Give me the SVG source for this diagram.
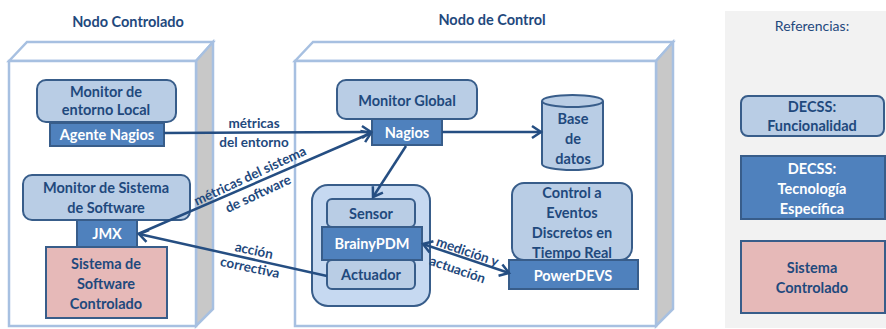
<svg xmlns="http://www.w3.org/2000/svg" width="886" height="329" viewBox="0 0 886 329">
<defs>
<style>
.t{font-family:Lato,"Liberation Sans",sans-serif;font-weight:bold;font-size:14.5px;fill:#1F497D;text-anchor:middle}
.w{fill:#FFFFFF}
.lbl{font-family:Lato,"Liberation Sans",sans-serif;font-weight:bold;font-size:13.5px;fill:#1F497D;text-anchor:middle}
.func{fill:#B9CDE5;stroke:#385D8A;stroke-width:2}
.tech{fill:#4F81BD;stroke:#385D8A;stroke-width:2}
.ctrl{fill:#E6B9B8;stroke:#385D8A;stroke-width:2}
.face{fill:#FFFFFF;stroke:#A7C0E1;stroke-width:2.5}
.side{fill:#C8C8C8;stroke:#A7C0E1;stroke-width:2.5}
.conn{fill:none;stroke:#254E82;stroke-width:2.5}
</style>
<marker id="ah" markerWidth="16" markerHeight="16" refX="12" refY="8" orient="auto-start-reverse" markerUnits="userSpaceOnUse">
<path d="M3,2 L12,8 L3,14" fill="none" stroke="#254E82" stroke-width="2.5"/>
</marker>
</defs>

<g id="nodo-controlado">
<text class="t" x="128" y="27">Nodo Controlado</text>
<polygon class="face" points="9,61 27,42 213,42 196,61"/>
<polygon class="side" points="196,61 213,42 213,309 196,326"/>
<rect class="face" x="9" y="61" width="187" height="265"/>
</g>

<g id="nodo-control">
<text class="t" x="492" y="25">Nodo de Control</text>
<polygon class="face" points="295,61 313,42 673,42 656,61"/>
<polygon class="side" points="656,61 673,42 673,309 656,326"/>
<rect class="face" x="295" y="61" width="361" height="265"/>
</g>

<g id="referencias">
<rect x="725" y="11" width="161" height="317" fill="#F2F2F2"/>
<text x="812" y="31" font-family="Lato,'Liberation Sans',sans-serif" font-size="14px" fill="#1F497D" text-anchor="middle">Referencias:</text>
</g>

<g id="monitor-entorno-local">
<rect class="func" x="37" y="80" width="139" height="42" rx="9"/>
<text class="t" x="106" y="97">Monitor de</text>
<text class="t" x="106" y="115">entorno Local</text>
</g>
<g id="agente-nagios">
<rect class="tech" x="50" y="123" width="114" height="23"/>
<text class="t w" x="107" y="140">Agente Nagios</text>
</g>

<g id="monitor-sistema-software">
<rect class="func" x="23" y="175" width="167" height="45" rx="9"/>
<text class="t" x="106" y="193">Monitor de Sistema</text>
<text class="t" x="106" y="213">de Software</text>
</g>
<g id="jmx">
<rect class="tech" x="77" y="220" width="60" height="27"/>
<text class="t w" x="107" y="239">JMX</text>
</g>
<g id="sistema-software-controlado">
<rect class="ctrl" x="46" y="247" width="121" height="71"/>
<text class="t" x="106" y="269">Sistema de</text>
<text class="t" x="106" y="289">Software</text>
<text class="t" x="106" y="309">Controlado</text>
</g>

<g id="monitor-global">
<rect class="func" x="337" y="80" width="140" height="39" rx="9"/>
<text class="t" x="407" y="106">Monitor Global</text>
</g>
<g id="nagios">
<rect class="tech" x="372" y="119" width="70" height="26"/>
<text class="t w" x="407" y="138">Nagios</text>
</g>

<g id="base-de-datos">
<path class="func" d="M542,101 L542,164 A30.5,6 0 0 0 603,164 L603,101 A30.5,6 0 0 0 542,101 Z"/>
<path d="M542,101 A30.5,6 0 0 0 603,101" fill="none" stroke="#385D8A" stroke-width="2"/>
<text class="t" x="573" y="124">Base</text>
<text class="t" x="573" y="144">de</text>
<text class="t" x="573" y="164">datos</text>
</g>

<g id="brainypdm-grupo">
<rect x="312" y="185" width="118" height="121" rx="16" fill="#C6D9F1" stroke="#385D8A" stroke-width="2"/>
</g>
<g id="sensor">
<rect class="func" x="327" y="199" width="88" height="28" rx="5"/>
<text class="t" x="371" y="219">Sensor</text>
</g>
<g id="brainypdm">
<rect class="tech" x="322" y="227" width="100" height="33"/>
<text class="t w" x="372" y="249">BrainyPDM</text>
</g>
<g id="actuador">
<rect class="func" x="327" y="260" width="88" height="29" rx="5"/>
<text class="t" x="371" y="280">Actuador</text>
</g>

<g id="control-eventos-discretos">
<rect class="func" x="512" y="183" width="120" height="77" rx="12"/>
<text class="t" x="572" y="198">Control a</text>
<text class="t" x="572" y="218">Eventos</text>
<text class="t" x="572" y="238">Discretos en</text>
<text class="t" x="572" y="258">Tiempo Real</text>
</g>
<g id="powerdevs">
<rect class="tech" x="509" y="260" width="129" height="29"/>
<text class="t w" x="573" y="281">PowerDEVS</text>
</g>

<g id="leyenda-funcionalidad">
<rect class="func" x="741" y="96" width="143" height="40" rx="7"/>
<text class="t" x="812" y="112">DECSS:</text>
<text class="t" x="812" y="131">Funcionalidad</text>
</g>
<g id="leyenda-tecnologia">
<rect class="tech" x="741" y="156" width="144" height="63"/>
<text class="t w" x="812" y="174">DECSS:</text>
<text class="t w" x="812" y="194">Tecnología</text>
<text class="t w" x="812" y="214">Específica</text>
</g>
<g id="leyenda-sistema-controlado">
<rect class="ctrl" x="741" y="241" width="144" height="72"/>
<text class="t" x="812" y="273">Sistema</text>
<text class="t" x="812" y="293">Controlado</text>
</g>

<g id="connectors">
<line class="conn" x1="164" y1="133" x2="371" y2="132" marker-end="url(#ah)"/>
<line class="conn" x1="138" y1="234" x2="371" y2="133" marker-end="url(#ah)"/>
<line class="conn" x1="327" y1="276" x2="139" y2="234" marker-end="url(#ah)"/>
<line class="conn" x1="442" y1="132" x2="541" y2="132" marker-end="url(#ah)"/>
<line class="conn" x1="406" y1="146" x2="373" y2="197" marker-end="url(#ah)"/>
<line class="conn" x1="423" y1="244" x2="509" y2="273" marker-start="url(#ah)" marker-end="url(#ah)"/>
<text class="lbl" x="254" y="128">métricas</text>
<text class="lbl" x="254" y="147">del entorno</text>
<text class="lbl" transform="translate(252,180) rotate(-25)">métricas del sistema</text>
<text class="lbl" transform="translate(260,198) rotate(-25)">de software</text>
<text class="lbl" transform="translate(253,255) rotate(12)">acción</text>
<text class="lbl" transform="translate(249,272) rotate(12)">correctiva</text>
<text class="lbl" transform="translate(466,256) rotate(19)">medición y</text>
<text class="lbl" transform="translate(456,274) rotate(19)">actuación</text>
</g>
</svg>
